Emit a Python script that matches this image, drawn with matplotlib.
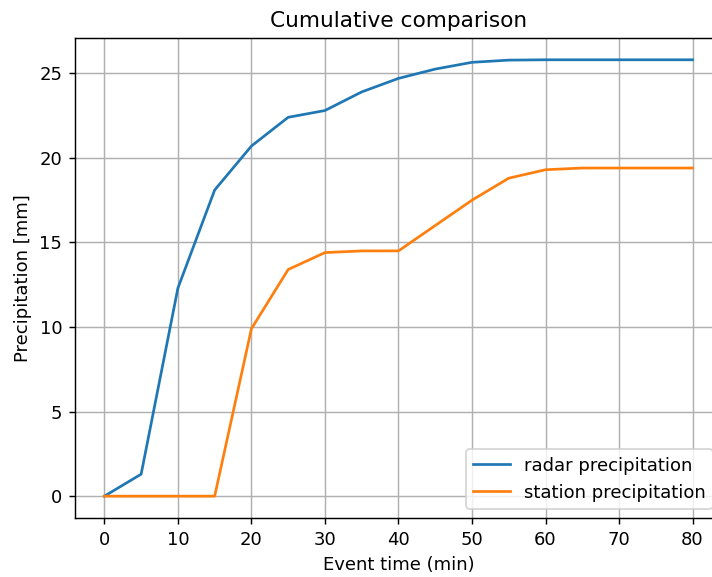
import matplotlib
matplotlib.use('Agg')
import matplotlib.pyplot as plt

t = [0, 5, 10, 15, 20, 25, 30, 35, 40, 45, 50, 55, 60, 65, 70, 75, 80]  # event time (min)
radar = [0.0, 1.3, 12.3, 18.1, 20.7, 22.4, 22.8, 23.9, 24.7, 25.25, 25.65, 25.78, 25.8,
         25.8, 25.8, 25.8, 25.8]
station = [0.0, 0.0, 0.0, 0.0, 9.9, 13.4, 14.4, 14.5, 14.5, 16.0, 17.5, 18.8, 19.3,
           19.4, 19.4, 19.4, 19.4]

dpi = 130
fig = plt.figure(figsize=(712 / dpi, 577 / dpi), dpi=dpi)
# axes run past the right edge, as in the (cropped) original
ax = fig.add_axes([0.1053, 0.1023, 0.9087, 0.8319])
ax.plot(t, radar, label='radar precipitation')
ax.plot(t, station, label='station precipitation')

ax.set_title('Cumulative comparison')
ax.set_xlabel('Event time (min)')
ax.set_ylabel('Precipitation [mm]')
ax.grid(True)
ax.legend(loc='lower right')

fig.savefig('out.png', dpi=dpi)
